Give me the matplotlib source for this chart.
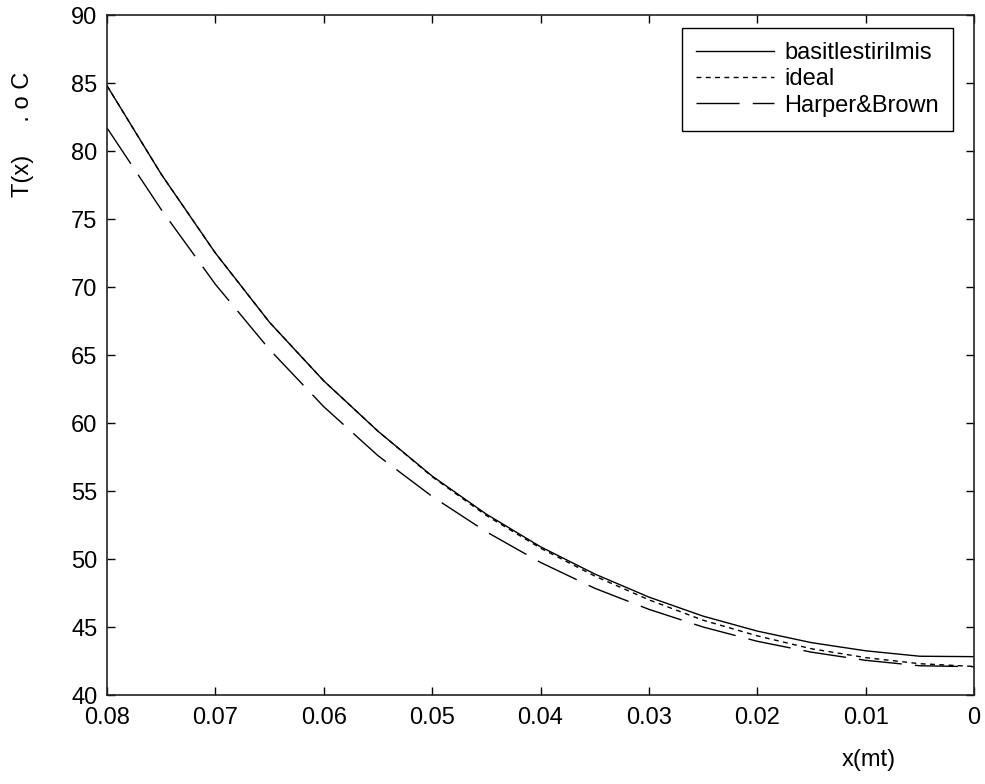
import matplotlib
matplotlib.use("Agg")
import matplotlib.pyplot as plt

plt.rcParams['font.family'] = ['Liberation Sans', 'DejaVu Sans']
plt.rcParams['lines.scale_dashes'] = False

# x positions (m)
x = [0.080, 0.075, 0.070, 0.065, 0.060, 0.055, 0.050, 0.045, 0.040,
     0.035, 0.030, 0.025, 0.020, 0.015, 0.010, 0.005, 0.000]

t_basit = [84.8, 78.3, 72.5, 67.4, 63.1, 59.4, 56.1, 53.3, 50.9,
           48.9, 47.2, 45.8, 44.7, 43.85, 43.25, 42.85, 42.82]
t_ideal = [84.8, 78.3, 72.5, 67.4, 63.1, 59.4, 56.05, 53.2, 50.8,
           48.75, 47.0, 45.5, 44.35, 43.4, 42.75, 42.3, 42.1]
t_harper = [81.7, 75.7, 70.2, 65.4, 61.2, 57.6, 54.6, 52.0, 49.75,
            47.85, 46.3, 45.0, 43.95, 43.15, 42.55, 42.15, 42.08]

labels = ['basitlestirilmis', 'ideal', 'Harper&Brown']
x_ticks = [0.08, 0.07, 0.06, 0.05, 0.04, 0.03, 0.02, 0.01, 0]
x_ticklabels = ['0.08', '0.07', '0.06', '0.05', '0.04', '0.03', '0.02', '0.01', '0']
y_ticks = [40, 45, 50, 55, 60, 65, 70, 75, 80, 85, 90]

fig = plt.figure(figsize=(9.85, 7.84), dpi=100)
ax = fig.add_axes([107/985, 89/784, 867/985, 680/784])

ax.plot(x, t_basit, color='black', lw=1.0, linestyle='-', label=labels[0])
ax.plot(x, t_ideal, color='black', lw=1.0, dashes=(3.5, 3.2), label=labels[1])
ax.plot(x, t_harper, color='black', lw=1.0, dashes=(31, 9.5), label=labels[2])

ax.set_xlim(0.08, 0)
ax.set_ylim(40, 90)
ax.set_xticks(x_ticks)
ax.set_xticklabels(x_ticklabels)
ax.set_yticks(y_ticks)
ax.tick_params(direction='in', length=6, width=1.0, labelsize=17,
               top=True, right=True)
ax.tick_params(axis='x', pad=9)
ax.tick_params(axis='y', pad=7)
for s in ax.spines.values():
    s.set_linewidth(1.2)
    s.set_color('#222222')

leg = ax.legend(loc='upper right', bbox_to_anchor=(0.9758, 0.981),
                fontsize=17, handlelength=3.3, handletextpad=0.42,
                labelspacing=0.18, borderpad=0.6, borderaxespad=0,
                fancybox=False, framealpha=1, edgecolor='black')
leg.get_frame().set_linewidth(1.0)

fig.text(23/985, 1 - 134/784, 'T(x)     . o C', rotation=90,
         ha='center', va='center', fontsize=17)
fig.text(869/985, 1 - 760/784, 'x(mt)', ha='center', va='center', fontsize=17)

fig.savefig('out.png', dpi=100)
